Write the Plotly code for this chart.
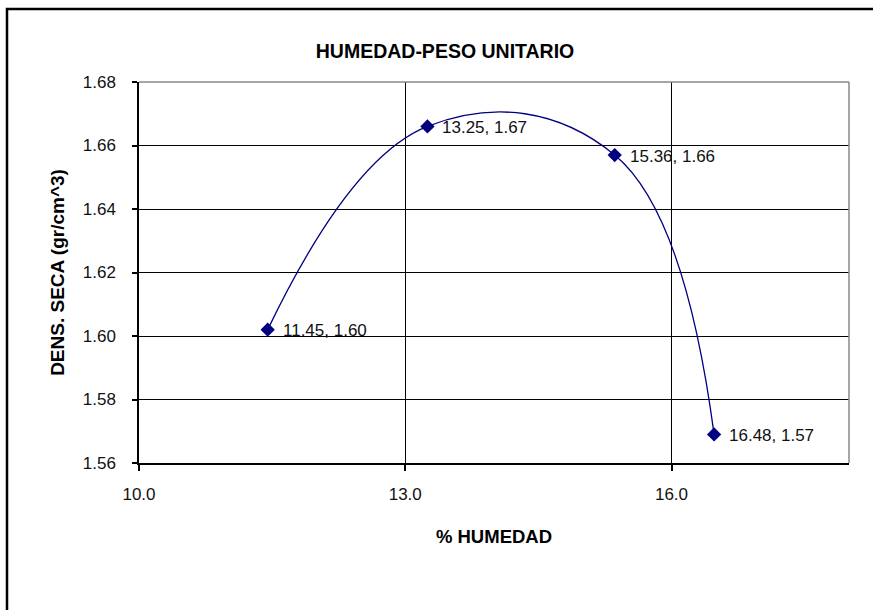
import plotly.graph_objects as go

# Data
humedad = [11.45, 13.25, 15.36, 16.48]
densidad = [1.602, 1.666, 1.657, 1.569]
labels = ["11.45, 1.60", "13.25, 1.67", "15.36, 1.66", "16.48, 1.57"]
x_ticks = [10, 13, 16]
x_tick_labels = ["10.0", "13.0", "16.0"]
y_ticks = [1.56, 1.58, 1.60, 1.62, 1.64, 1.66, 1.68]

W, H = 873, 610
ML, MR, MT, MB = 139, 24, 82, 147
pw, ph = W - ML - MR, H - MT - MB

def px_x(p):
    return (p - ML) / pw

def px_y(p):
    return (H - MB - p) / ph

navy = "#000080"
sans = "Liberation Sans, Arial, sans-serif"
fig = go.Figure()
fig.add_trace(go.Scatter(
    x=humedad, y=densidad, mode="lines+markers",
    line=dict(color=navy, width=1.3, shape="spline", smoothing=1.2),
    marker=dict(symbol="diamond", size=11, color=navy),
    showlegend=False, hoverinfo="skip",
))

for xv, yv, t in zip(humedad, densidad, labels):
    fig.add_annotation(x=xv, y=yv, text=t, showarrow=False, xanchor="left",
                       yanchor="middle", xshift=13, yshift=-1,
                       font=dict(family=sans, size=17, color="#111"))

tick_font = dict(family=sans, size=17, color="#111")
fig.update_layout(
    width=W, height=H,
    margin=dict(l=ML, r=MR, t=MT, b=MB, autoexpand=False),
    paper_bgcolor="white", plot_bgcolor="white",
    title=dict(text="<b>HUMEDAD-PESO UNITARIO</b>", x=445 / W, xanchor="center",
               y=1 - 51 / H, yanchor="middle", xref="container", yref="container",
               font=dict(family=sans, size=19.5, color="#000")),
    xaxis=dict(range=[10, 18], tickvals=x_ticks, ticktext=x_tick_labels,
               showgrid=True, gridcolor="#000", gridwidth=1.2, zeroline=False,
               showline=True, linecolor="#000", linewidth=1.5,
               ticks="outside", ticklen=6, tickcolor="#000", tickwidth=1.5,
               ticklabelstandoff=9, tickfont=tick_font,
               title=dict(text="<b>% HUMEDAD</b>", standoff=27,
                          font=dict(family=sans, size=18.5, color="#000"))),
    yaxis=dict(range=[1.56, 1.68], tickvals=y_ticks, tickformat=".2f",
               showgrid=True, gridcolor="#000", gridwidth=1.2, zeroline=False,
               showline=True, linecolor="#000", linewidth=1.5,
               ticks="outside", ticklen=5, tickcolor="#000", tickwidth=1.5,
               ticklabelstandoff=13, tickfont=tick_font,
               title=dict(text="<b>DENS. SECA (gr/cm^3)</b>", standoff=13,
                          font=dict(family=sans, size=19, color="#000"))),
    shapes=[
        # outer chart border
        dict(type="rect", xref="paper", yref="paper",
             x0=px_x(7), x1=px_x(890), y0=px_y(9), y1=px_y(640),
             line=dict(color="#000", width=2.5), layer="above"),
        # gray plot area border top & right
        dict(type="line", xref="paper", yref="paper", x0=0, x1=1, y0=1, y1=1,
             line=dict(color="#888", width=1.5)),
        dict(type="line", xref="paper", yref="paper", x0=1, x1=1, y0=0, y1=1,
             line=dict(color="#888", width=1.5)),
    ],
)

fig.write_html("out.html", config={"displayModeBar": False},
               post_script="document.body.style.margin='0';")
